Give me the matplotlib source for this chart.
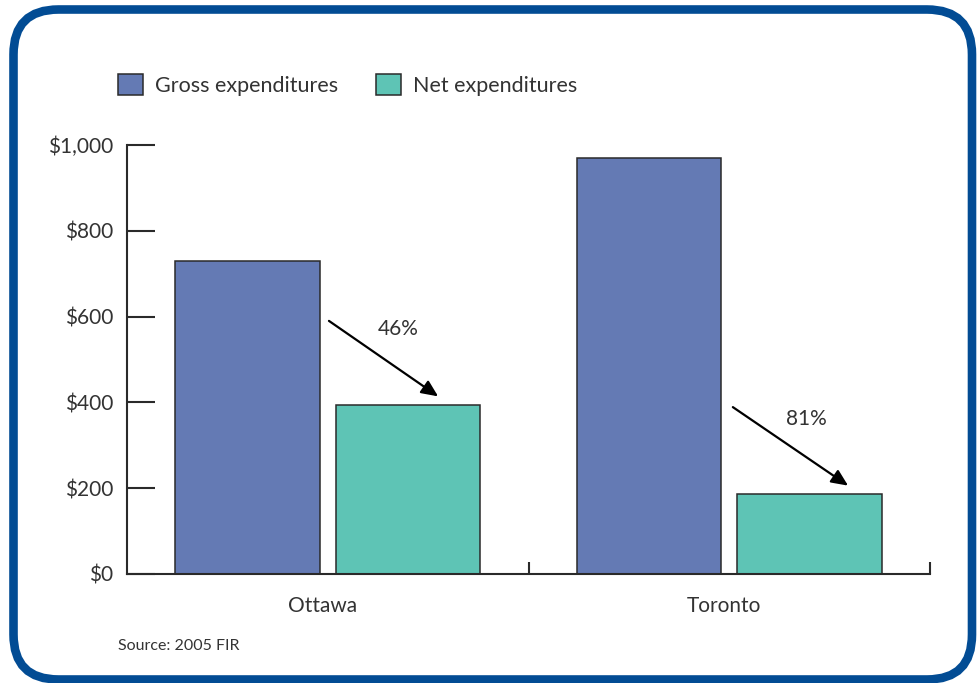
import matplotlib
matplotlib.use("Agg")
import matplotlib.pyplot as plt
from matplotlib.patches import FancyBboxPatch, Patch
import numpy as np

plt.rcParams['font.family'] = ['Lato', 'DejaVu Sans']

cities = ["Ottawa", "Toronto"]
gross = [730, 970]
net = [394, 186]
pct_labels = ["46%", "81%"]
yticks = [0, 200, 400, 600, 800, 1000]
ytick_labels = ["$0", "$200", "$400", "$600", "$800", "$1,000"]
series_names = ["Gross expenditures", "Net expenditures"]
source_note = "Source: 2005 FIR"

gross_color = "#647ab4"
net_color = "#5ec4b5"
edge_color = "#2a2a2a"
text_color = "#333333"
frame_color = "#024c94"

fig = plt.figure(figsize=(9.8, 6.83), dpi=100)

# rounded outer frame, in inches so the corners stay circular
frame = FancyBboxPatch((0.135, 0.035), 9.585, 6.70,
                       boxstyle="round,pad=0,rounding_size=0.45",
                       transform=fig.dpi_scale_trans, fill=False,
                       edgecolor=frame_color, linewidth=6.2, zorder=0)
fig.patches.append(frame)

ax = fig.add_axes([127/980, 1-574/683, (930-127)/980, (574-145)/683])
x = np.arange(len(cities))
w = 0.36
off = 0.2
ax.bar(x - off, gross, w, color=gross_color, edgecolor=edge_color, linewidth=1.1, label=series_names[0], zorder=2)
ax.bar(x + off, net, w, color=net_color, edgecolor=edge_color, linewidth=1.1, label=series_names[1], zorder=2)

ax.set_xlim(-0.5, 1.5)
ax.set_ylim(0, 1000)
for s in ["top", "right"]:
    ax.spines[s].set_visible(False)
for s in ["left", "bottom"]:
    ax.spines[s].set_color(edge_color)
    ax.spines[s].set_linewidth(1.5)

ax.set_yticks(yticks)
ax.set_yticklabels(ytick_labels)
ax.tick_params(axis="y", direction="in", length=20, width=1.5, color=edge_color,
               labelsize=15, labelcolor=text_color, pad=10)

# category boundaries carry the ticks; names sit at group centres
ax.set_xticks([0.5, 1.5])
ax.set_xticklabels([])
ax.set_xticks(x - 0.012, minor=True)
ax.set_xticklabels(cities, minor=True)
ax.tick_params(axis="x", which="major", direction="in", length=9, width=1.5, color=edge_color)
ax.tick_params(axis="x", which="minor", length=0, labelsize=15, labelcolor=text_color, pad=16)

# reduction arrows from gross to net
arrow_starts = [(0.003, 590), (1.009, 389)]
arrow_dx = [0.272, 0.287]
label_pos = [(0.175, 571), (1.191, 361)]
for i in range(len(cities)):
    sx, sy = arrow_starts[i]
    ex, ey = sx + arrow_dx[i], net[i] + 20
    ax.annotate("", xy=(ex, ey), xytext=(sx, sy),
                arrowprops=dict(arrowstyle="-|>,head_length=1.0,head_width=0.45",
                                color="black", lw=1.6, shrinkA=0, shrinkB=0), zorder=3)
    ax.text(label_pos[i][0], label_pos[i][1], pct_labels[i], ha="center", va="center",
            fontsize=15, color=text_color)

handles = [Patch(facecolor=gross_color, edgecolor=edge_color, linewidth=1.1),
           Patch(facecolor=net_color, edgecolor=edge_color, linewidth=1.1)]
fig.legend(handles, series_names, loc="center left", bbox_to_anchor=(99/980, 1-85/683),
           ncol=2, frameon=False, fontsize=15.5, handlelength=1.16, handleheight=1.16,
           handletextpad=0.56, columnspacing=1.72, labelcolor=text_color)

fig.text(118/980, 1-646/683, source_note, fontsize=11.5, color=text_color, va="center")

fig.savefig("out.png", dpi=100)
